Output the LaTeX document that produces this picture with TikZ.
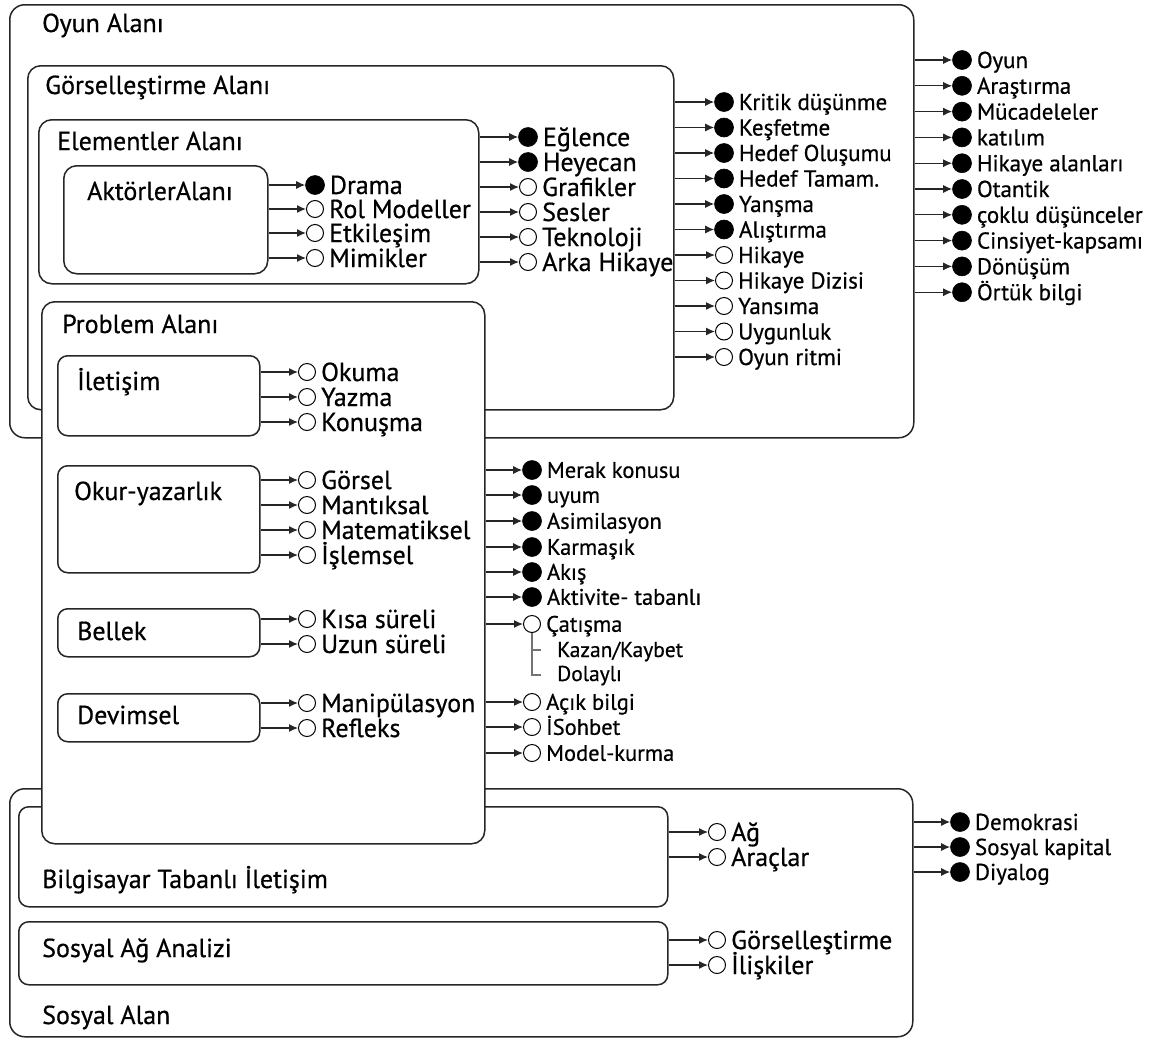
\documentclass[tikz,border=0pt]{standalone}
\usepackage{fontspec}
\setmainfont{PT Sans}[FakeBold=0.6]
\usetikzlibrary{arrows.meta}
\tikzset{
  area/.style={draw=black!85, line width=1.5pt, fill=white, rounded corners=15pt, anchor=north west, inner sep=0pt},
  marea/.style={area, rounded corners=13pt},
  sarea/.style={area, rounded corners=10pt},
  lab/.style={anchor=base west, inner sep=0pt, font=\fontsize{26}{26}\selectfont},
  fdot/.style={circle, fill=black, draw=black, line width=0.6pt, minimum size=19pt, inner sep=0pt},
  odot/.style={circle, draw=black, fill=white, line width=1pt, minimum size=17pt, inner sep=0pt},
  conn/.style={draw=black!85, line width=1.3pt, -{Latex[length=9pt,width=8pt]}},
  brk/.style={draw=black!55, line width=1.3pt},
  bigt/.style={anchor=base west, inner sep=0pt, font=\fontsize{26}{26}\selectfont, yshift=-9pt},
  medt/.style={anchor=base west, inner sep=0pt, font=\fontsize{23}{23}\selectfont, yshift=-8pt},
  smlt/.style={anchor=base west, inner sep=0pt, font=\fontsize{22.5}{22.5}\selectfont, yshift=-7.8pt},
  subt/.style={anchor=base west, inner sep=0pt, font=\fontsize{21.5}{21.5}\selectfont},
}
\newcommand\areabox[6]{% style, name, x1, y1, x2, y2
  \node[#1, minimum width={(#5-#3)*1pt}, minimum height={(#6-#4)*1pt}] (#2) at (#3,#4) {};}
\newcommand\oitem[7]{% name, box, cx, cy, dot style, text style, text
  \node[#5] (#1) at (#3,#4) {};
  \node[#6] (#1t) at ([xshift=5pt]#1.east) {#7};
  \draw[conn] (#2.east |- #1.center) -- (#1);}
\begin{document}
\begin{tikzpicture}[x=1pt,y=-1pt]
\useasboundingbox (0,0) rectangle (1158,1039);
% Oyun Alani
\areabox{area}{oyun}{9}{4}{913}{437}
\node[lab] (loyun) at (42,32) {Oyun Alanı};
\areabox{marea}{gors}{27}{65}{673}{409}
\node[lab] (lgors) at (45,94) {Görselleştirme Alanı};
\areabox{marea}{elem}{38}{119}{478}{283}
\node[lab] (lelem) at (57,150) {Elementler Alanı};
\areabox{marea}{akt}{63}{165}{267}{273}
\node[lab] (lakt) at (87,200) {AktörlerAlanı};
% Sosyal Alan
\areabox{area}{sos}{9}{788}{912}{1036}
\node[lab] (lsos) at (42,1024) {Sosyal Alan};
\areabox{sarea}{bil}{18}{806}{667}{906}
\node[lab] (lbil) at (42,888) {Bilgisayar Tabanlı İletişim};
\areabox{sarea}{saa}{18}{921}{667}{984}
\node[lab] (lsaa) at (42,957) {Sosyal Ağ Analizi};
% Problem Alani
\areabox{marea}{prob}{41}{301}{484}{843}
\node[lab] (lprob) at (62,333) {Problem Alanı};
\areabox{sarea}{ilet}{57}{355}{259}{435}
\node[lab] (lilet) at (77,390) {İletişim};
\areabox{sarea}{okur}{57}{465}{259}{572}
\node[lab] (lokur) at (74,500) {Okur-yazarlık};
\areabox{sarea}{bell}{57}{608}{259}{656}
\node[lab] (lbell) at (77,640) {Bellek};
\areabox{sarea}{devi}{57}{693}{259}{741}
\node[lab] (ldevi) at (77,724) {Devimsel};
% Aktorler items
\oitem{a1}{akt}{315}{185}{fdot}{bigt}{Drama}
\oitem{a2}{akt}{315}{209}{odot}{bigt}{Rol Modeller}
\oitem{a3}{akt}{315}{233}{odot}{bigt}{Etkileşim}
\oitem{a4}{akt}{315}{258}{odot}{bigt}{Mimikler}
% Elementler items
\oitem{e1}{elem}{528}{137}{fdot}{bigt}{Eğlence}
\oitem{e2}{elem}{528}{162}{fdot}{bigt}{Heyecan}
\oitem{e3}{elem}{528}{187}{odot}{bigt}{Grafikler}
\oitem{e4}{elem}{528}{212}{odot}{bigt}{Sesler}
\oitem{e5}{elem}{528}{237}{odot}{bigt}{Teknoloji}
\oitem{e6}{elem}{528}{262}{odot}{bigt}{Arka Hikaye}
% Gorsellestirme items
\oitem{g1}{gors}{724}{102}{fdot}{medt}{Kritik düşünme}
\oitem{g2}{gors}{724}{127.5}{fdot}{medt}{Keşfetme}
\oitem{g3}{gors}{724}{153}{fdot}{medt}{Hedef Oluşumu}
\oitem{g4}{gors}{724}{178.5}{fdot}{medt}{Hedef Tamam.}
\oitem{g5}{gors}{724}{204}{fdot}{medt}{Yanşma}
\oitem{g6}{gors}{724}{229.5}{fdot}{medt}{Alıştırma}
\oitem{g7}{gors}{724}{255}{odot}{medt}{Hikaye}
\oitem{g8}{gors}{724}{280.5}{odot}{medt}{Hikaye Dizisi}
\oitem{g9}{gors}{724}{306}{odot}{medt}{Yansıma}
\oitem{g10}{gors}{724}{331.5}{odot}{medt}{Uygunluk}
\oitem{g11}{gors}{724}{357}{odot}{medt}{Oyun ritmi}
% Oyun items
\oitem{o1}{oyun}{962}{60}{fdot}{medt}{Oyun}
\oitem{o2}{oyun}{962}{85.8}{fdot}{medt}{Araştırma}
\oitem{o3}{oyun}{962}{111.6}{fdot}{medt}{Mücadeleler}
\oitem{o4}{oyun}{962}{137.4}{fdot}{medt}{katılım}
\oitem{o5}{oyun}{962}{163.2}{fdot}{medt}{Hikaye alanları}
\oitem{o6}{oyun}{962}{189}{fdot}{medt}{Otantik}
\oitem{o7}{oyun}{962}{214.8}{fdot}{medt}{çoklu düşünceler}
\oitem{o8}{oyun}{962}{240.6}{fdot}{medt}{Cinsiyet-kapsamı}
\oitem{o9}{oyun}{962}{266.4}{fdot}{medt}{Dönüşüm}
\oitem{o10}{oyun}{962}{292.2}{fdot}{medt}{Örtük bilgi}
% Problem sub items
\oitem{i1}{ilet}{307}{372}{odot}{bigt}{Okuma}
\oitem{i2}{ilet}{307}{397}{odot}{bigt}{Yazma}
\oitem{i3}{ilet}{307}{422}{odot}{bigt}{Konuşma}
\oitem{k1}{okur}{307}{480}{odot}{bigt}{Görsel}
\oitem{k2}{okur}{307}{505}{odot}{bigt}{Mantıksal}
\oitem{k3}{okur}{307}{530}{odot}{bigt}{Matematiksel}
\oitem{k4}{okur}{307}{555}{odot}{bigt}{İşlemsel}
\oitem{b1}{bell}{307}{619}{odot}{bigt}{Kısa süreli}
\oitem{b2}{bell}{307}{644}{odot}{bigt}{Uzun süreli}
\oitem{d1}{devi}{307}{703}{odot}{bigt}{Manipülasyon}
\oitem{d2}{devi}{307}{728}{odot}{bigt}{Refleks}
% Problem items
\oitem{p1}{prob}{532}{470}{fdot}{smlt}{Merak konusu}
\oitem{p2}{prob}{532}{495}{fdot}{smlt}{uyum}
\oitem{p3}{prob}{532}{521}{fdot}{smlt}{Asimilasyon}
\oitem{p4}{prob}{532}{547}{fdot}{smlt}{Karmaşık}
\oitem{p5}{prob}{532}{572}{fdot}{smlt}{Akış}
\oitem{p6}{prob}{532}{597}{fdot}{smlt}{Aktivite- tabanlı}
\oitem{p7}{prob}{532}{624}{odot}{smlt}{Çatışma}
\node[subt] (kaz) at (557,657) {Kazan/Kaybet};
\node[subt] (dol) at (557,681) {Dolaylı};
\coordinate (kzc) at (541,650);
\coordinate (dlc) at (541,675);
\draw[brk] (p7.south) |- (dlc);
\draw[brk] (p7.south |- kzc) -- (kzc);
\oitem{p8}{prob}{532}{702}{odot}{smlt}{Açık bilgi}
\oitem{p9}{prob}{532}{727}{odot}{smlt}{İSohbet}
\oitem{p10}{prob}{532}{753}{odot}{smlt}{Model-kurma}
% Sosyal items
\oitem{s1}{bil}{717}{832}{odot}{bigt}{Ağ}
\oitem{s2}{bil}{717}{857}{odot}{bigt}{Araçlar}
\oitem{s3}{saa}{717}{940}{odot}{bigt}{Görselleştirme}
\oitem{s4}{saa}{717}{965}{odot}{bigt}{İlişkiler}
\oitem{t1}{sos}{960}{822}{fdot}{medt}{Demokrasi}
\oitem{t2}{sos}{960}{847}{fdot}{medt}{Sosyal kapital}
\oitem{t3}{sos}{960}{872}{fdot}{medt}{Diyalog}
\end{tikzpicture}
\end{document}
